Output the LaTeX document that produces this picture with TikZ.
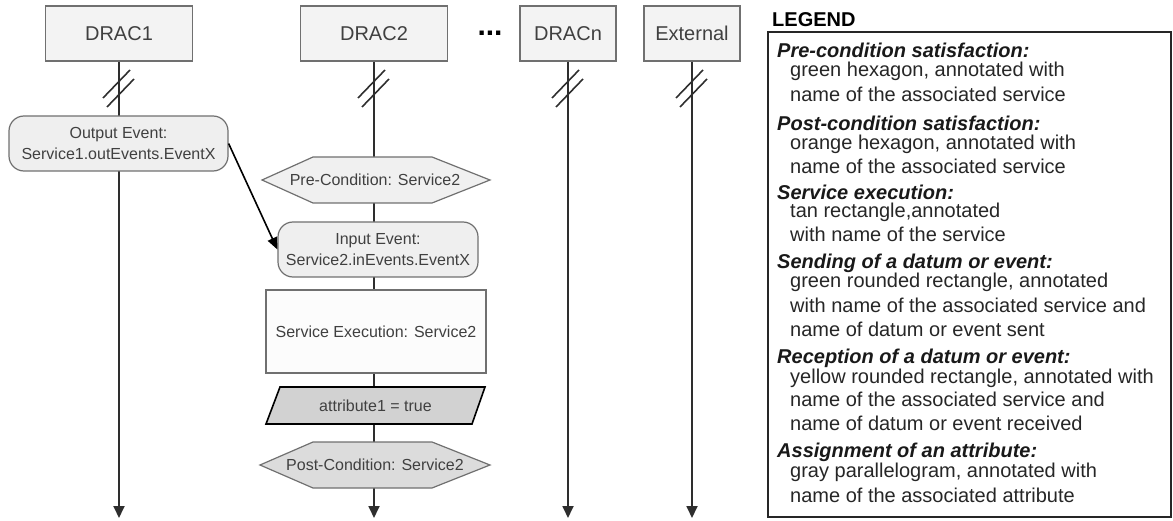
\documentclass[tikz,border=0pt]{standalone}
\usepackage{fontspec}
\setmainfont{Liberation Sans}
\usetikzlibrary{arrows.meta}

\definecolor{boxfill}{HTML}{F3F3F3}
\definecolor{evtfill}{HTML}{EFEFEF}
\definecolor{prefill}{HTML}{F0F0F0}
\definecolor{postfill}{HTML}{DCDCDC}
\definecolor{attrfill}{HTML}{D2D2D2}
\definecolor{execfill}{HTML}{FCFCFC}
\definecolor{boxgray}{HTML}{707070}
\definecolor{txt}{HTML}{404040}
\definecolor{linegray}{HTML}{2E2E2E}

\begin{document}
\begin{tikzpicture}[x=1pt,y=-1pt,
  lane/.style={draw=boxgray, fill=boxfill, line width=1.2pt, minimum height=55pt,
    inner sep=0pt, font=\fontsize{20}{24}\selectfont, text=txt},
  lifeline/.style={draw=linegray, line width=1.8pt, -{Triangle[length=12pt,width=11pt]}},
  breakmark/.style={draw=linegray, line width=1.6pt},
  evt/.style={draw=boxgray, fill=evtfill, line width=1.2pt, rounded corners=15pt,
    minimum height=55pt, inner sep=0pt, align=center,
    font=\fontsize{16}{21}\selectfont, text=txt},
  exec/.style={draw=boxgray, fill=execfill, line width=1.2pt, minimum width=220pt,
    minimum height=83pt, inner sep=0pt, font=\fontsize{16}{20}\selectfont, text=txt},
  hexa/.style={draw=boxgray, line width=1.2pt},
  para/.style={draw=black, fill=attrfill, line width=1.6pt},
  label/.style={font=\fontsize{16}{20}\selectfont, text=txt, inner sep=0pt},
  msg/.style={draw=black, line width=1.6pt, -{Triangle[length=12pt,width=10pt]}},
  legtitle/.style={anchor=base west, inner sep=0pt, font=\fontsize{20}{24}\selectfont\bfseries\itshape, text=black!90},
  legtext/.style={anchor=base west, inner sep=0pt, font=\fontsize{20}{24}\selectfont, text=black!85},
  legframe/.style={draw=black!85, line width=2pt, inner sep=0pt}
]
\useasboundingbox (0,0) rectangle (1173,521);

% participants
\node[lane, minimum width=147pt] (d1) at (119,33.5) {DRAC1};
\node[lane, minimum width=147pt] (d2) at (374,33.5) {DRAC2};
\node[inner sep=0pt, font=\fontsize{30}{30}\selectfont\bfseries, text=black] (dots) at (490,33) {...};
\node[lane, minimum width=96pt] (dn) at (568,33.5) {DRACn};
\node[lane, minimum width=96pt] (ext) at (692,33.5) {External};

% lifeline ends
\coordinate (e1) at (119,518);
\coordinate (e2) at (374,518);
\coordinate (en) at (568,518);
\coordinate (ee) at (692,518);

% lifelines
\draw[lifeline] (d1.south) -- (e1);
\draw[lifeline] (d2.south) -- (e2);
\draw[lifeline] (dn.south) -- (en);
\draw[lifeline] (ext.south) -- (ee);

% break marks on each lifeline
\foreach \lx in {119,374,568,692}{
  \draw[breakmark] (\lx-16,98) -- (\lx+11,70);
  \draw[breakmark] (\lx-12,107) -- (\lx+15,79);
}

% DRAC1: sending an event
\node[evt, minimum width=219pt] (out) at (118.5,143.5) {Output Event:\\Service1.outEvents.EventX};

% DRAC2: pre-condition hexagon
\filldraw[hexa, fill=prefill] (262,180) -- (313,157) -- (432,157) -- (490,180) -- (432,203) -- (313,203) -- cycle;
\node[label] (pre) at (375,180) {Pre-Condition: Service2};

% DRAC2: receiving the event
\node[evt, minimum width=200pt] (in) at (378,249.5) {Input Event:\\Service2.inEvents.EventX};

% DRAC2: service execution
\node[exec] (run) at (376,331.5) {Service Execution: Service2};

% DRAC2: attribute assignment
\filldraw[para] (266,424) -- (280,387) -- (485,387) -- (472,424) -- cycle;
\node[label] (attr) at (375.5,405.5) {attribute1 = true};

% DRAC2: post-condition hexagon
\filldraw[hexa, fill=postfill] (260,465) -- (313,442) -- (432,442) -- (490,465) -- (432,488) -- (313,488) -- cycle;
\node[label] (post) at (375,465) {Post-Condition: Service2};

% event passed from DRAC1 to DRAC2
\draw[msg] (out.east) -- (in.west);

% legend
\node[anchor=base west, inner sep=0pt, font=\fontsize{20}{24}\selectfont\bfseries, text=black] (leghead) at (772,27) {LEGEND};
\node[legframe, minimum width=403pt, minimum height=485pt] (legend) at (969.5,274.5) {};

\node[legtitle] (l1) at (777,58)  {Pre-condition satisfaction:};
\node[legtext]  (l1a) at (790,77)  {green hexagon, annotated with};
\node[legtext]  (l1b) at (790,102) {name of the associated service};

\node[legtitle] (l2) at (777,131) {Post-condition satisfaction:};
\node[legtext]  (l2a) at (790,150) {orange hexagon, annotated with};
\node[legtext]  (l2b) at (790,174) {name of the associated service};

\node[legtitle] (l3) at (777,200) {Service execution:};
\node[legtext]  (l3a) at (790,218) {tan rectangle,annotated};
\node[legtext]  (l3b) at (790,242) {with name of the service};

\node[legtitle] (l4) at (777,269) {Sending of a datum or event:};
\node[legtext]  (l4a) at (790,288) {green rounded rectangle, annotated};
\node[legtext]  (l4b) at (790,313) {with name of the associated service and};
\node[legtext]  (l4c) at (790,337) {name of datum or event sent};

\node[legtitle] (l5) at (777,363) {Reception of a datum or event:};
\node[legtext]  (l5a) at (790,383) {yellow rounded rectangle, annotated with};
\node[legtext]  (l5b) at (790,406) {name of the associated service and};
\node[legtext]  (l5c) at (790,430) {name of datum or event received};

\node[legtitle] (l6) at (777,457) {Assignment of an attribute:};
\node[legtext]  (l6a) at (790,477) {gray parallelogram, annotated with};
\node[legtext]  (l6b) at (790,502) {name of the associated attribute};
\end{tikzpicture}
\end{document}
